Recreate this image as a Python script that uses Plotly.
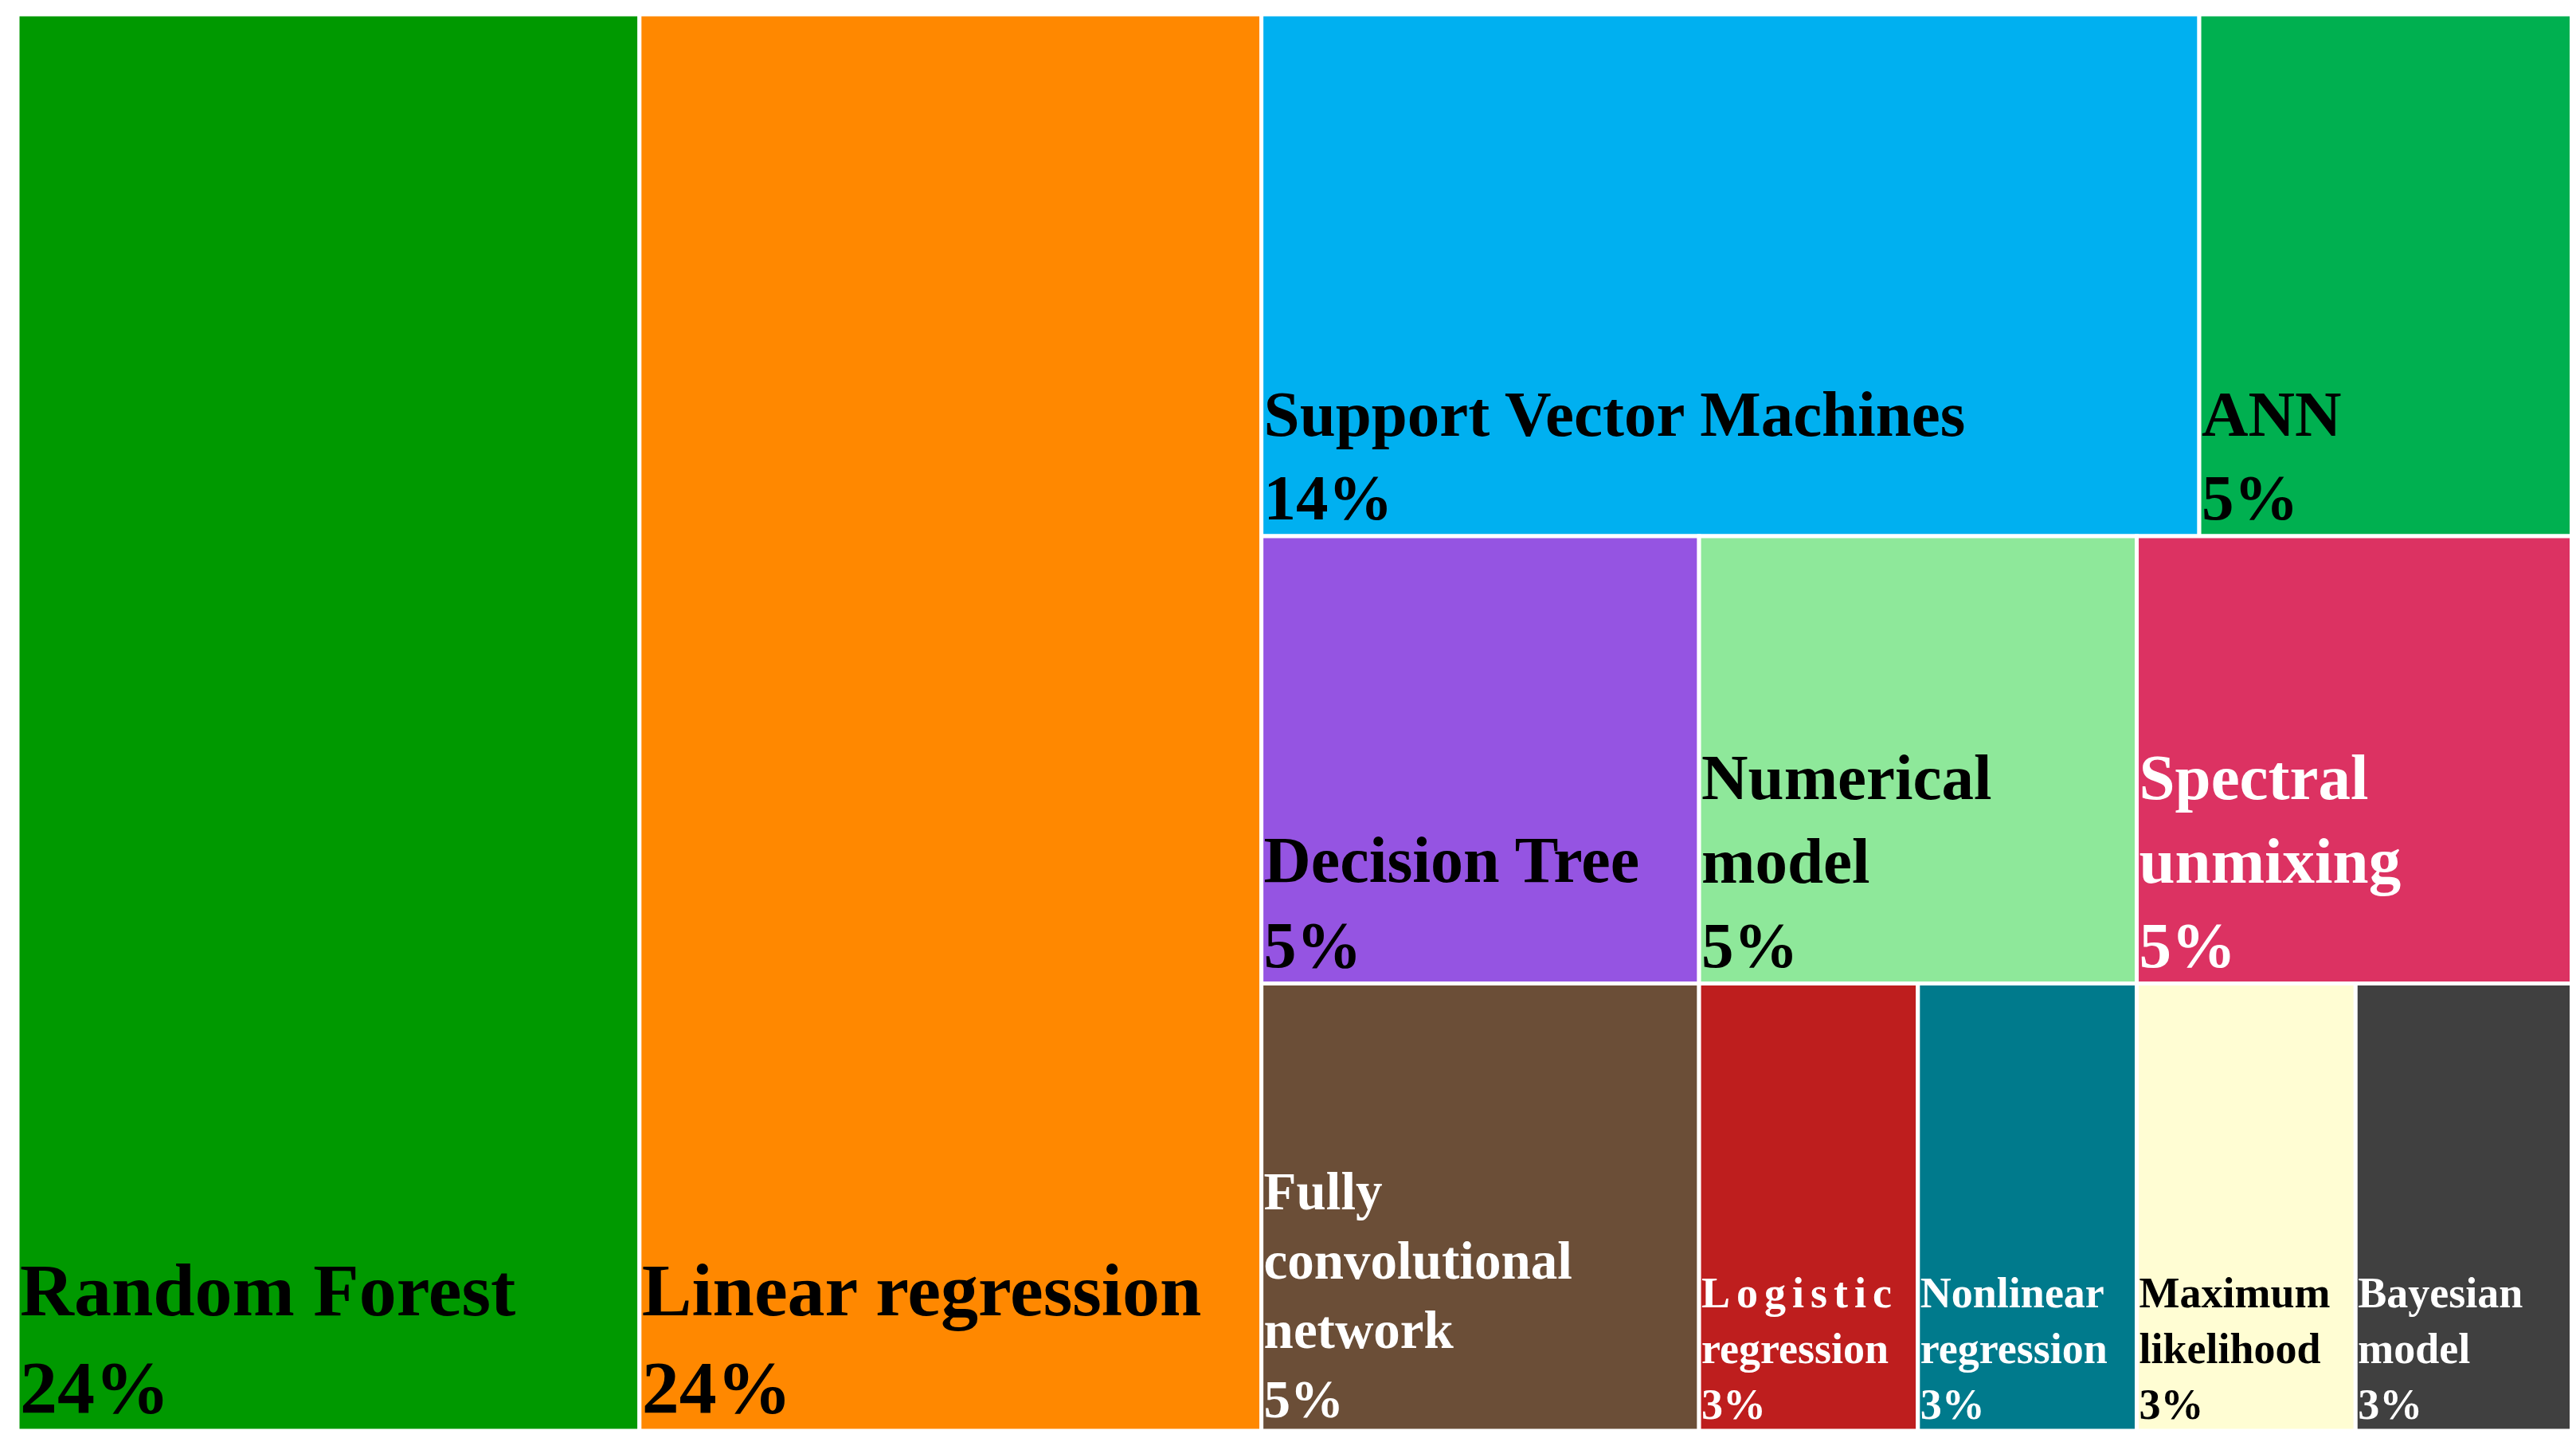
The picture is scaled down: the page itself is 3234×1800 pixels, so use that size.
import plotly.graph_objects as go

# Leaf categories (counts of studies) and display labels
methods = ["Random Forest", "Linear regression", "Support Vector Machines", "ANN",
           "Decision Tree", "Numerical model", "Spectral unmixing",
           "Fully convolutional network", "Logistic regression", "Nonlinear regression",
           "Maximum likelihood", "Bayesian model"]
display_labels = ["Random Forest", "Linear regression", "Support Vector Machines", "ANN",
                  "Decision Tree", "Numerical<br>model", "Spectral<br>unmixing",
                  "Fully<br>convolutional<br>network",
                  "<span style='letter-spacing:8px'>Logistic</span><br>regression",
                  "Nonlinear<br>regression", "Maximum<br>likelihood", "Bayesian<br>model"]
counts = [9, 9, 5, 2, 2, 2, 2, 2, 1, 1, 1, 1]
groups = ["", "", "Row 1", "Row 1", "Row 2", "Row 2", "Row 2",
          "Row 3", "Row 3", "Row 3", "Row 3", "Row 3"]
colors = ["#009900", "#FF8800", "#00B0F0", "#00B050", "#9554E2", "#8EE89A",
          "#DC3262", "#6B4E37", "#BE1E1E", "#007A8C", "#FFFDD3", "#404040"]
text_colors = ["black", "black", "black", "black", "black", "black", "white",
               "white", "white", "white", "black", "white"]
text_sizes = [94, 94, 81, 81, 82, 81, 81, 67, 54, 54, 54, 54]

# Grouping nodes (layout only)
group_ids = ["Other", "Row 1", "Row 2", "Row 3"]
group_parents = ["", "Other", "Other", "Other"]

total = sum(counts)

ids, labels, parents, values, texts, mcolors, tcolors, tsizes = [], [], [], [], [], [], [], []
for g, gp in zip(group_ids, group_parents):
    if g == "Other":
        v = sum(c for c, gr in zip(counts, groups) if gr != "")
    else:
        v = sum(c for c, gr in zip(counts, groups) if gr == g)
    ids.append(g); labels.append(g); parents.append(gp); values.append(v)
    texts.append(""); mcolors.append("white"); tcolors.append("white"); tsizes.append(10)

for m, dl, c, gr, col, tc, ts in zip(methods, display_labels, counts, groups, colors, text_colors, text_sizes):
    ids.append(m); labels.append(m); parents.append(gr); values.append(c)
    texts.append(f"{dl}<br>{round(c / total * 100)}%")
    mcolors.append(col); tcolors.append(tc); tsizes.append(ts)

# Order: roots first (RF, LR, Other), then rows
order = [ids.index(k) for k in ["Random Forest", "Linear regression", "Other",
                                 "Row 1", "Row 2", "Row 3"] + methods[2:]]
def reo(a):
    return [a[i] for i in order]

fig = go.Figure(go.Treemap(
    ids=reo(ids), labels=reo(labels), parents=reo(parents), values=reo(values),
    text=reo(texts), textinfo="text", branchvalues="total", sort=False,
    textposition="bottom left",
    textfont=dict(family="Liberation Serif", color=reo(tcolors), size=reo(tsizes), weight="bold"),
    marker=dict(colors=reo(mcolors), line=dict(color="white", width=5),
                pad=dict(t=0, l=0, r=0, b=0), depthfade=False),
    tiling=dict(packing="slice-dice", pad=0),
    pathbar=dict(visible=False),
    hoverinfo="label+value",
))
fig.update_layout(width=3234, height=1800, margin=dict(l=14, r=10, t=10, b=12),
                  paper_bgcolor="white", plot_bgcolor="white")
fig.write_html("out.html")
